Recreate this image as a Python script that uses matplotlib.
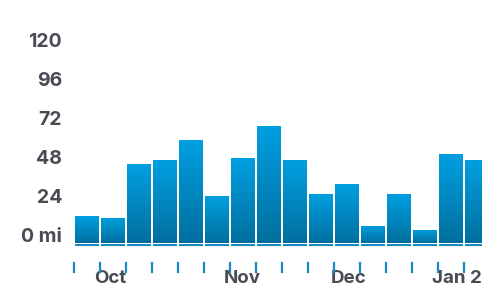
import numpy as np
import matplotlib.pyplot as plt
from matplotlib.colors import LinearSegmentedColormap
from matplotlib.transforms import offset_copy

# weekly distance (mi)
weeks = list(range(16))
miles = [16.8, 15.6, 48.8, 51.3, 63.6, 29.1, 52.5, 72.2,
         51.3, 30.3, 36.5, 10.6, 30.3, 8.2, 55.0, 51.3]
yticks = [0, 24, 48, 72, 96, 120]
ylabels = ['0 mi', '24', '48', '72', '96', '120']
months = ['Oct', 'Nov', 'Dec', 'Jan 2025']
month_pos = [1.385, 6.48, 10.58, 13.77]

grey = '#4a4a55'
blue = '#1a88c4'
plt.rcParams['font.family'] = ['Inter', 'DejaVu Sans']

fig = plt.figure(figsize=(4.82, 2.94), dpi=100)
ax = fig.add_axes([74 / 482, (294 - 243.3) / 294, 408 / 482, (243.3 - 30) / 294])
ax.set_xlim(0, 408 / 26)
ax.set_ylim(0, (243.3 - 30) / 1.625)
ax.axis('off')

cmap = LinearSegmentedColormap.from_list('g', ['#006f9e', '#00a0e2'])
grad = np.linspace(0, 1, 256).reshape(-1, 1)

bars = ax.bar([w + 1 / 26 for w in weeks], miles, width=24 / 26, align='edge',
              color='none', edgecolor='none')
for b in bars:
    x0, y0 = b.get_x(), b.get_y()
    im = ax.imshow(grad, cmap=cmap, origin='lower', aspect='auto',
                   extent=[x0, x0 + b.get_width(), y0, y0 + b.get_height()],
                   zorder=2)
    im.set_clip_path(b)

# baseline segments under each bar
ax.bar([w + 1 / 26 for w in weeks], [1.4] * len(weeks), bottom=-1.9,
       width=24 / 26, align='edge', color=blue, clip_on=False)

ax.set_xlim(0, 408 / 26)

# week ticks
tr = ax.get_xaxis_transform()
for w in weeks:
    ax.plot([w, w], [-19.7 / 213.3, -28.7 / 213.3], color=blue, lw=1.6,
            transform=tr, clip_on=False, zorder=5)

# y labels, drawn slightly above their values
ytr = offset_copy(ax.get_yaxis_transform(), fig=fig, x=0, y=6, units='dots')
for v, s in zip(yticks, ylabels):
    ax.text(-12 / 408, v, s, transform=ytr, ha='right', va='center',
            fontsize=14, fontweight='bold', color=grey, clip_on=False)

for p, s in zip(month_pos, months):
    ax.text(p, -35 / 213.3, s, transform=tr, ha='left' if s.startswith('Jan') else 'center',
            va='center', fontsize=13.5, fontweight='bold', color=grey, clip_on=False)

fig.savefig('out.png', dpi=100)
